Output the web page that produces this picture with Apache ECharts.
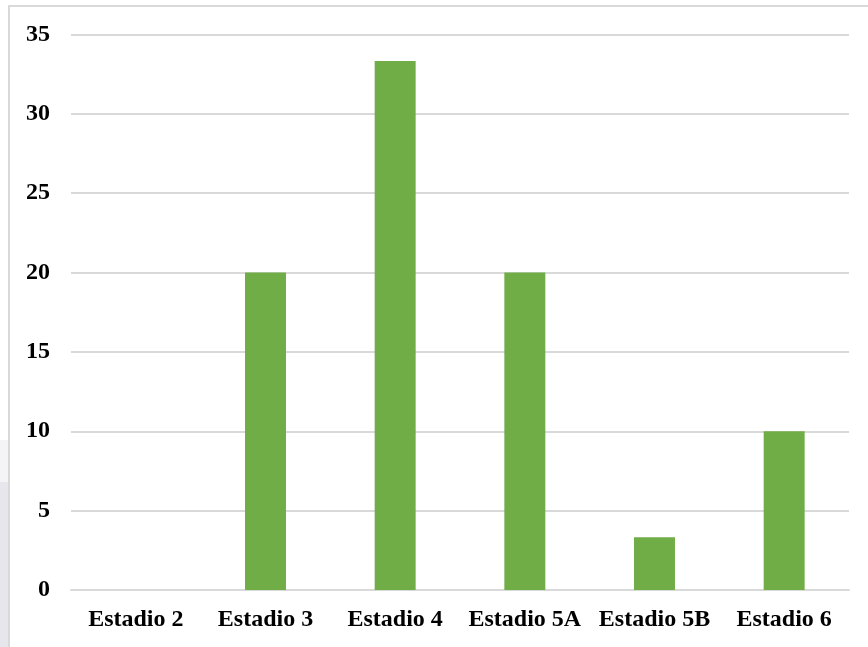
<!DOCTYPE html>
<html>
<head>
<meta charset="utf-8">
<script src="https://cdn.jsdelivr.net/npm/echarts@6/dist/echarts.min.js"></script>
<style>
html,body{margin:0;padding:0;background:#fff;}
#chart{width:868px;height:647px;}
</style>
</head>
<body>
<div id="chart"></div>
<script>
const categories = ['Estadio 2', 'Estadio 3', 'Estadio 4', 'Estadio 5A', 'Estadio 5B', 'Estadio 6'];
const values = [0, 20, 33.33, 20, 3.33, 10];
const yTicks = [0, 5, 10, 15, 20, 25, 30, 35];

const chart = echarts.init(document.getElementById('chart'), null, {renderer: 'canvas'});
const font = '"Liberation Serif", "Times New Roman", serif';
chart.setOption({
  animation: false,
  backgroundColor: '#ffffff',
  grid: {left: 71, right: 19, top: 34.5, bottom: 57, containLabel: false},
  xAxis: {
    type: 'category',
    data: categories,
    axisLine: {show: true, lineStyle: {color: '#d9d9d9', width: 2}},
    axisTick: {show: false},
    axisLabel: {interval: 0, color: '#000', fontFamily: font, fontWeight: 'bold', fontSize: 24, margin: 18}
  },
  yAxis: {
    type: 'value',
    min: yTicks[0],
    max: yTicks[yTicks.length - 1],
    interval: 5,
    axisLine: {show: false},
    axisTick: {show: false},
    splitLine: {lineStyle: {color: '#d9d9d9', width: 2}},
    axisLabel: {color: '#000', fontFamily: font, fontWeight: 'bold', fontSize: 24, margin: 21, padding: [4, 0, 0, 0]}
  },
  series: [{
    type: 'bar',
    data: values,
    barWidth: '31.6%',
    itemStyle: {color: '#70ad47'}
  }],
  graphic: [
    {type: 'rect', shape: {x: 0, y: 440, width: 8, height: 42}, style: {fill: '#f4f4f6'}, silent: true},
    {type: 'rect', shape: {x: 0, y: 482, width: 8, height: 165}, style: {fill: '#e6e6ec'}, silent: true},
    {type: 'polyline', shape: {points: [[9, 647], [9, 6], [868, 6]]}, style: {stroke: '#d9d9d9', lineWidth: 2, fill: null}, silent: true}
  ]
});
</script>
</body>
</html>
